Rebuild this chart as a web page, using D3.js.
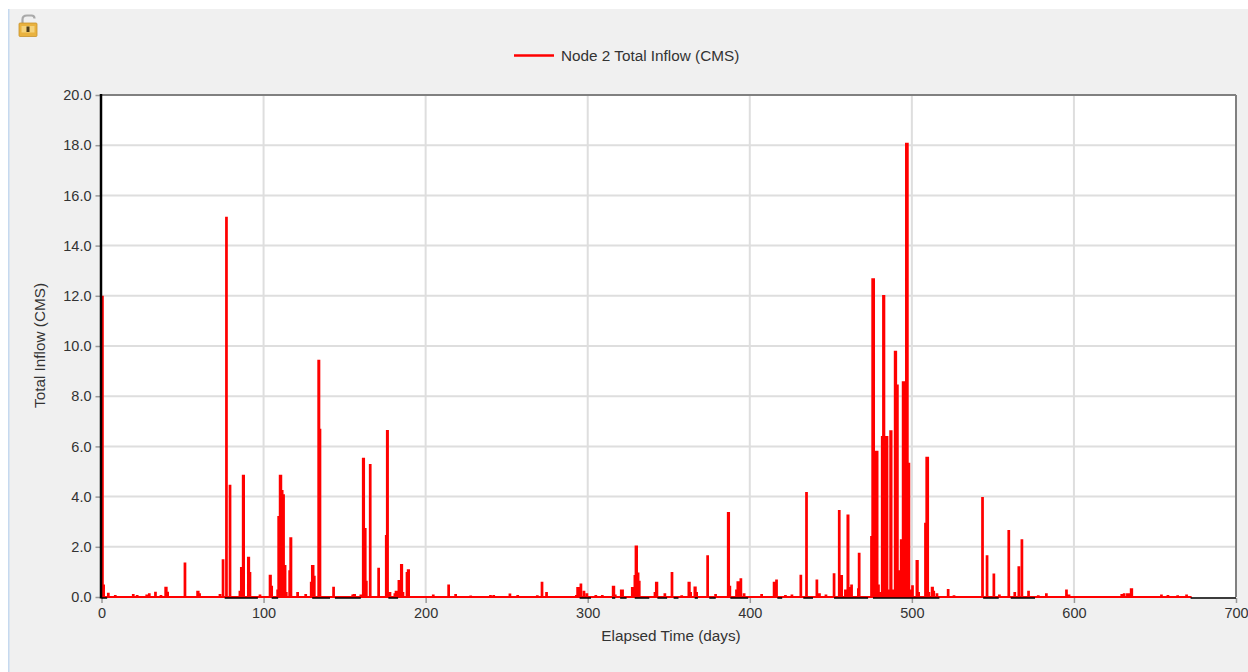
<!DOCTYPE html>
<html>
<head>
<meta charset="utf-8">
<script src="https://cdn.jsdelivr.net/npm/d3@7"></script>
<style>
  html, body { margin: 0; padding: 0; background: #fff; overflow: hidden; }
  text { font-family: "Liberation Sans", Arial, sans-serif; }
</style>
</head>
<body>
<div id="chart"></div>
<script>
// Values
const spikeDays = [
  0.3, 1.3, 4.2, 8.5, 19.6, 22, 27.9, 29.5, 33.3, 36.7, 39.6, 40.8, 51.5, 59.3, 60.5,
  73.1, 75, 77.1, 79.3, 85.4, 86.7, 87.7, 90.6, 91.6, 97.8,
  104, 105, 108.7, 109.5, 110.5, 111.3, 112.1, 113, 114, 116.1, 116.9, 121, 126,
  129.4, 130.3, 131.3, 134, 134.8, 143.2, 155, 156.2, 160, 161.5, 162.5, 163.4, 165.8,
  171, 175.7, 176.5, 178, 181, 182, 183.5, 185, 186, 188.5, 189.5,
  204.7, 214.2, 218.5, 227.8, 240, 242, 252, 256.8, 268.9, 271.8, 274.6,
  293, 294.1, 295.8, 297.7, 299.5, 305, 309, 315.7, 317, 320.7, 321.5,
  327.5, 329.1, 330, 330.8, 331.8, 341.5, 342.7, 347.6, 352, 358, 362.4, 363.5, 366.1, 367.2,
  374, 378.9, 386.7, 387.7, 391.8, 393, 394.5, 396.5, 407.3, 415, 416.5, 422, 426,
  431.5, 435, 441.4, 443, 447, 452, 455.2, 456.7, 459, 460.5, 461.3, 462.8,
  467, 467.5, 475.1, 476.1, 477.2, 478.2, 479.4, 481, 482, 482.5, 483.5, 484.5, 485.3,
  486.9, 488, 489.7, 490.9, 491.7, 492.6, 493.8, 495, 495.9, 496.9, 498, 498.8,
  500.4, 503.1, 504.2, 508.4, 509.5, 510.5, 512.5, 513.5, 515.5, 522.4, 526,
  543.6, 546.4, 550.6, 554, 559.8, 563.5, 566, 567.9, 572, 578, 583, 595.4, 597,
  629.5, 631, 633, 634.5, 635.7, 654, 658, 664, 669.5
];
const spikeFlows = [
  12, 0.5, 0.17, 0.08, 0.12, 0.08, 0.1, 0.15, 0.21, 0.08, 0.41, 0.21, 1.37, 0.25, 0.15,
  0.12, 1.5, 15.15, 4.47, 0.25, 1.2, 4.87, 1.6, 1, 0.1,
  0.89, 0.45, 0.3, 3.23, 4.87, 4.26, 4.09, 1.27, 0.2, 1.07, 2.38, 0.2, 0.12,
  0.61, 1.27, 0.85, 9.45, 6.7, 0.41, 0.1, 0.12, 0.1, 5.55, 2.75, 0.65, 5.3,
  1.17, 2.47, 6.65, 0.2, 0.15, 0.25, 0.68, 1.31, 0.2, 1, 1.11,
  0.1, 0.5, 0.12, 0.06, 0.08, 0.08, 0.14, 0.08, 0.07, 0.61, 0.2,
  0.08, 0.4, 0.54, 0.25, 0.15, 0.08, 0.08, 0.45, 0.1, 0.3, 0.3,
  0.4, 0.88, 2.05, 0.98, 0.65, 0.2, 0.61, 0.15, 1, 0.07, 0.61, 0.2, 0.42, 0.2,
  1.66, 0.12, 3.39, 0.45, 0.3, 0.63, 0.75, 0.15, 0.12, 0.61, 0.7, 0.08, 0.1,
  0.89, 4.18, 0.7, 0.15, 0.1, 0.95, 3.47, 0.88, 0.3, 3.29, 0.4, 0.5,
  0.35, 1.76, 2.43, 12.7, 3.9, 5.83, 0.5, 0.2, 6.41, 12.03, 6.41, 6.41, 0.3,
  6.64, 0.3, 9.81, 8.47, 1.07, 0.75, 2.3, 8.6, 8.6, 18.1, 5.35, 0.3,
  0.47, 1.47, 0.2, 2.96, 5.59, 0.2, 0.41, 0.25, 0.15, 0.32, 0.07,
  3.98, 1.66, 0.94, 0.1, 2.67, 0.2, 1.23, 2.3, 0.25, 0.07, 0.15, 0.3, 0.1,
  0.12, 0.15, 0.15, 0.15, 0.35, 0.1, 0.08, 0.07, 0.1
];
const baseFlow = 0.04;
const lastDay = 672;

// stretches where the black axis line shows below the trace
const dryStart = [0, 76, 105, 130, 144, 177, 295, 315, 320, 329, 343, 353, 366, 375, 388, 417, 433, 452, 476, 544, 561, 672];
const dryEnd = [3.5, 96.5, 109, 141, 160, 183, 302, 317, 324, 338, 349, 356, 368, 379, 399, 420, 439, 473, 517, 553.6, 576, 700];

const xTicks = [0, 100, 200, 300, 400, 500, 600, 700];
const yTicks = [0, 2, 4, 6, 8, 10, 12, 14, 16, 18, 20];
const seriesName = "Node 2 Total Inflow (CMS)";
const xTitle = "Elapsed Time (days)";
const yTitle = "Total Inflow (CMS)";

// Style properties
const size = { width: 1248, height: 672 };
const margin = { left: 101, right: 12, top: 95, bottom: 75 };
const red = "#ff0000";
const gridColor = "#dedede";
const textColor = "#333";
const traceWidth = 2;

// Scales
const xScale = d3.scaleLinear([0, 700], [margin.left + 0.5, size.width - margin.right]);
const yScale = d3.scaleLinear([0, 20], [size.height - margin.bottom, margin.top]);

// Trace: spikes joined by the base flow whenever they are more than a day or so apart
const series = [[0, spikeFlows[0]]];
spikeDays.forEach((d, i) => {
  const prev = spikeDays[i - 1];
  if (i > 0 && d - prev > 1.4) {
    series.push([prev + 0.45, baseFlow]);
    series.push([d - 0.45, baseFlow]);
  }
  series.push([d, spikeFlows[i]]);
});
series.push([spikeDays[spikeDays.length - 1] + 0.45, baseFlow]);
series.push([lastDay, baseFlow]);

const svg = d3
  .select("#chart")
  .append("svg")
  .attr("width", size.width)
  .attr("height", size.height)
  .style("display", "block");

// Panel
svg.append("rect").attr("x", 9).attr("y", 9).attr("width", size.width - 9).attr("height", size.height - 9).attr("fill", "#f0f0f0");
svg.append("rect").attr("x", 8).attr("y", 9).attr("width", 1.5).attr("height", size.height - 9).attr("fill", "#c6d9ef");

// Lock icon
const lock = svg.append("g").attr("transform", "translate(18,14)");
lock.append("path").attr("d", "M4.5 9V5.5Q4.5 1.5 9 1.5H13.5Q16.5 1.5 16.5 4.5").attr("fill", "none").attr("stroke", "#a9a9a9").attr("stroke-width", 2.2);
lock.append("rect").attr("x", 1).attr("y", 9).attr("width", 18).attr("height", 13.5).attr("rx", 1).attr("fill", "#e9b23f").attr("stroke", "#c8922c").attr("stroke-width", 0.8);
lock.append("rect").attr("x", 3.5).attr("y", 12).attr("width", 13).attr("height", 6.5).attr("fill", "#f5d27a");
lock.append("rect").attr("x", 8.5).attr("y", 12.5).attr("width", 3).attr("height", 5.5).attr("fill", "#4a3a1a");

// Plot area
svg
  .append("rect")
  .attr("x", xScale(0))
  .attr("y", yScale(20))
  .attr("width", xScale(700) - xScale(0))
  .attr("height", yScale(0) - yScale(20))
  .attr("fill", "#fff");

// Grid
svg
  .append("g")
  .selectAll("line")
  .data(xTicks.slice(1, -1))
  .join("line")
  .attr("x1", (d) => xScale(d))
  .attr("x2", (d) => xScale(d))
  .attr("y1", yScale(0))
  .attr("y2", yScale(20))
  .attr("stroke", gridColor)
  .attr("stroke-width", 2);

svg
  .append("g")
  .selectAll("line")
  .data(yTicks.slice(1, -1))
  .join("line")
  .attr("x1", xScale(0))
  .attr("x2", xScale(700))
  .attr("y1", (d) => yScale(d))
  .attr("y2", (d) => yScale(d))
  .attr("stroke", gridColor)
  .attr("stroke-width", 2);

// Axes
const xAxis = svg
  .append("g")
  .attr("transform", `translate(0,${yScale(0) + 1})`)
  .call(d3.axisBottom(xScale).tickValues(xTicks).tickSize(5).tickSizeOuter(0).tickPadding(5))
  .style("font-size", "14.5px");
const yAxis = svg
  .append("g")
  .attr("transform", `translate(${xScale(0) - 1},0)`)
  .call(d3.axisLeft(yScale).tickValues(yTicks).tickFormat(d3.format(".1f")).tickSize(5).tickSizeOuter(0).tickPadding(4))
  .style("font-size", "14.5px");
[xAxis, yAxis].forEach((g) => {
  g.select(".domain").remove();
  g.selectAll("line").attr("stroke", "#999").attr("stroke-width", 1.5);
  g.selectAll("text").attr("fill", textColor).style("font-family", '"Liberation Sans", Arial, sans-serif');
});

// Plot border
svg.append("line").attr("x1", xScale(0)).attr("x2", xScale(700)).attr("y1", yScale(20)).attr("y2", yScale(20)).attr("stroke", "#808080").attr("stroke-width", 2);
svg.append("line").attr("x1", xScale(700)).attr("x2", xScale(700)).attr("y1", yScale(20)).attr("y2", yScale(0)).attr("stroke", "#808080").attr("stroke-width", 2);

// Trace, stepped and filled so that neighbouring readings merge into solid blocks
const area = d3
  .area()
  .x((d) => xScale(d[0]))
  .y0(yScale(0))
  .y1((d) => yScale(d[1]) + traceWidth / 2)
  .curve(d3.curveStep);

svg
  .append("path")
  .datum(series)
  .attr("d", area)
  .attr("fill", red)
  .attr("stroke", red)
  .attr("stroke-width", traceWidth);

// Black axis lines, drawn after the trace where it runs dry
svg
  .append("g")
  .selectAll("line")
  .data(d3.range(dryStart.length))
  .join("line")
  .attr("x1", (i) => xScale(dryStart[i]))
  .attr("x2", (i) => xScale(dryEnd[i]))
  .attr("y1", yScale(0) + 1)
  .attr("y2", yScale(0) + 1)
  .attr("stroke", "#000")
  .attr("stroke-width", 1.5);
svg.append("line").attr("x1", xScale(0) - 0.5).attr("x2", xScale(0) - 0.5).attr("y1", yScale(20) - 1).attr("y2", yScale(0) + 1.5).attr("stroke", "#000").attr("stroke-width", 2.5);

// Titles
svg
  .append("text")
  .attr("x", 671)
  .attr("y", 641)
  .attr("text-anchor", "middle")
  .attr("font-size", 15.3)
  .attr("fill", textColor)
  .text(xTitle);
svg
  .append("text")
  .attr("transform", "translate(45,345.5) rotate(-90)")
  .attr("text-anchor", "middle")
  .attr("font-size", 15.3)
  .attr("fill", textColor)
  .text(yTitle);

// Legend
svg.append("line").attr("x1", 514).attr("x2", 554).attr("y1", 55.5).attr("y2", 55.5).attr("stroke", red).attr("stroke-width", 2.5);
svg
  .append("text")
  .attr("x", 561)
  .attr("y", 60.5)
  .attr("font-size", 15.3)
  .attr("fill", textColor)
  .text(seriesName);
</script>
</body>
</html>
